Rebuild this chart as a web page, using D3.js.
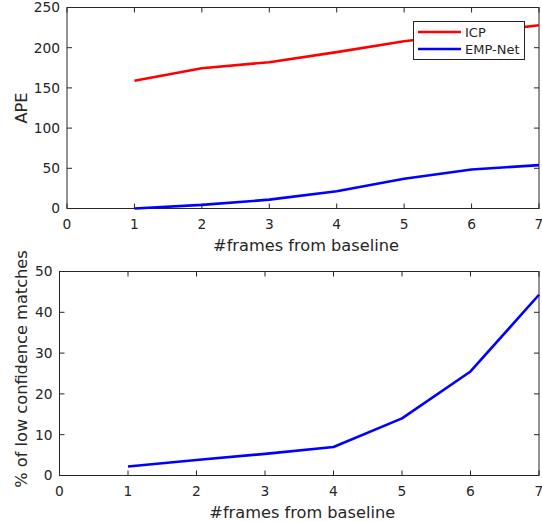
<!DOCTYPE html>
<html>
<head>
<meta charset="utf-8">
<script src="https://cdn.jsdelivr.net/npm/d3@7"></script>
<style>
  body { margin: 0; background: #fff; }
  text { font-family: "DejaVu Sans", sans-serif; fill: #262626; }
</style>
</head>
<body>
<svg width="542" height="522"></svg>
<script>
// data
const frames = [1, 2, 3, 4, 5, 6, 7];
const icp = [159, 174.5, 182, 194.5, 208, 218, 228];
const empNet = [0, 4.5, 11, 21.5, 37, 48.5, 54];
const lowConf = [2.2, 3.8, 5.3, 7.0, 14.0, 25.5, 44.3];
const xTicks = [0, 1, 2, 3, 4, 5, 6, 7];
const apeTicks = [0, 50, 100, 150, 200, 250];
const pctTicks = [0, 10, 20, 30, 40, 50];

const svg = d3.select('svg');
const axisCol = '#262626';

function panel(box, yMax, yTicks, yLabel, series) {
  const x = d3.scaleLinear().domain([0, 7]).range([box.left, box.right]);
  const y = d3.scaleLinear().domain([0, yMax]).range([box.bottom, box.top]);
  const g = svg.append('g');

  // box
  g.append('rect')
    .attr('x', box.left).attr('y', box.top)
    .attr('width', box.right - box.left).attr('height', box.bottom - box.top)
    .attr('fill', 'none').attr('stroke', axisCol).attr('stroke-width', 1);

  // ticks inside, on all four sides
  const tl = 5;
  xTicks.forEach(t => {
    g.append('line').attr('x1', x(t)).attr('x2', x(t)).attr('y1', box.bottom).attr('y2', box.bottom - tl).attr('stroke', axisCol);
    g.append('line').attr('x1', x(t)).attr('x2', x(t)).attr('y1', box.top).attr('y2', box.top + tl).attr('stroke', axisCol);
    g.append('text').attr('x', x(t)).attr('y', box.bottom + 20)
      .attr('text-anchor', 'middle').attr('font-size', 13.8).text(t);
  });
  yTicks.forEach(t => {
    g.append('line').attr('x1', box.left).attr('x2', box.left + tl).attr('y1', y(t)).attr('y2', y(t)).attr('stroke', axisCol);
    g.append('line').attr('x1', box.right).attr('x2', box.right - tl).attr('y1', y(t)).attr('y2', y(t)).attr('stroke', axisCol);
    g.append('text').attr('x', box.left - 7).attr('y', y(t)).attr('dy', '0.35em')
      .attr('text-anchor', 'end').attr('font-size', 13.8).text(t);
  });

  g.append('text').attr('x', (box.left + box.right) / 2 + 3).attr('y', box.bottom + 42)
    .attr('text-anchor', 'middle').attr('font-size', 16.2).text('#frames from baseline');
  g.append('text')
    .attr('transform', `translate(${box.yLabelX}, ${box.yLabelY}) rotate(-90)`)
    .attr('text-anchor', 'middle').attr('dy', '0.35em').attr('font-size', 16.2).text(yLabel);

  const line = d3.line().x((d, i) => x(frames[i])).y(d => y(d));
  series.forEach(s => {
    g.append('path').datum(s.values)
      .attr('d', line).attr('fill', 'none')
      .attr('stroke', s.color).attr('stroke-width', 2.6)
      .attr('stroke-linejoin', 'round');
  });
  return g;
}

panel({ left: 67, right: 539, top: 7.5, bottom: 208.5, yLabelX: 21, yLabelY: 108 }, 250, apeTicks, 'APE', [
  { name: 'ICP', color: '#ff0000', values: icp },
  { name: 'EMP-Net', color: '#0000ff', values: empNet }
]);

panel({ left: 59.5, right: 539, top: 271.5, bottom: 475.5, yLabelX: 21, yLabelY: 369 }, 50, pctTicks, '% of low confidence matches', [
  { name: 'EMP-Net', color: '#0000ff', values: lowConf }
]);

// legend
const legendItems = [{ name: 'ICP', color: '#ff0000' }, { name: 'EMP-Net', color: '#0000ff' }];
const lg = svg.append('g');
lg.append('rect').attr('x', 413.5).attr('y', 21.5).attr('width', 111).attr('height', 38)
  .attr('fill', '#fff').attr('stroke', axisCol).attr('stroke-width', 1);
legendItems.forEach((d, i) => {
  const cy = 32 + i * 17;
  lg.append('line').attr('x1', 418).attr('x2', 461).attr('y1', cy).attr('y2', cy)
    .attr('stroke', d.color).attr('stroke-width', 2.6);
  lg.append('text').attr('x', 465).attr('y', cy).attr('dy', '0.35em')
    .attr('font-size', 13).text(d.name);
});
</script>
</body>
</html>
